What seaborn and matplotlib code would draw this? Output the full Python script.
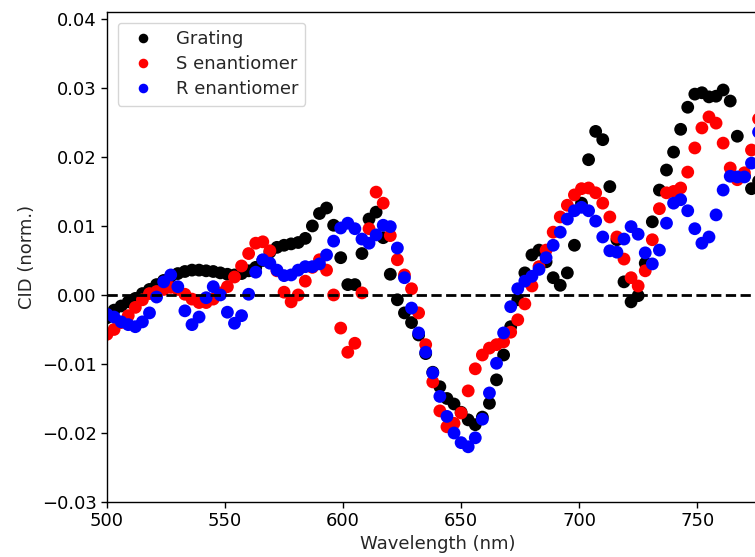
import matplotlib
matplotlib.use('Agg')
import matplotlib.pyplot as plt
import pandas as pd
import seaborn as sns

# values (3 nm steps)
wavelength = [500, 503, 506, 509, 512, 515, 518, 521, 524, 527,
              530, 533, 536, 539, 542, 545, 548, 551, 554, 557,
              560, 563, 566, 569, 572, 575, 578, 581, 584, 587,
              590, 593, 596, 599, 602, 605, 608, 611, 614, 617,
              620, 623, 626, 629, 632, 635, 638, 641, 644, 647,
              650, 653, 656, 659, 662, 665, 668, 671, 674, 677,
              680, 683, 686, 689, 692, 695, 698, 701, 704, 707,
              710, 713, 716, 719, 722, 725, 728, 731, 734, 737,
              740, 743, 746, 749, 752, 755, 758, 761, 764, 767,
              770, 773, 776]

grating = [-0.0033, -0.0022, -0.0016, -0.0010, -0.0005, 0.0002, 0.0008, 0.0015, 0.0021, 0.0027,
           0.0031, 0.0034, 0.0036, 0.0036, 0.0035, 0.0034, 0.0032, 0.0030, 0.0029, 0.0031,
           0.0035, 0.0040, 0.0050, 0.0062, 0.0069, 0.0072, 0.0074, 0.0076, 0.0082, 0.0100,
           0.0118, 0.0126, 0.0101, 0.0054, 0.0015, 0.0015, 0.0060, 0.0110, 0.0120, 0.0083,
           0.0030, -0.0007, -0.0026, -0.0040, -0.0058, -0.0085, -0.0112, -0.0133, -0.0150, -0.0158,
           -0.0170, -0.0181, -0.0188, -0.0177, -0.0157, -0.0123, -0.0087, -0.0046, -0.0007, 0.0032,
           0.0058, 0.0065, 0.0048, 0.0025, 0.0014, 0.0032, 0.0072, 0.0133, 0.0196, 0.0237,
           0.0225, 0.0157, 0.0080, 0.0019, -0.0010, -0.0001, 0.0046, 0.0106, 0.0152, 0.0181,
           0.0207, 0.0240, 0.0272, 0.0291, 0.0293, 0.0287, 0.0288, 0.0297, 0.0281, 0.0230,
           0.0172, 0.0154, 0.0165]

s_enantiomer = [-0.0057, -0.0050, -0.0040, -0.0030, -0.0018, -0.0007, 0.0002, 0.0005, 0.0008, 0.0011,
                0.0008, 0.0001, -0.0006, -0.0011, -0.0011, -0.0006, 0.0003, 0.0012, 0.0026, 0.0042,
                0.0060, 0.0075, 0.0077, 0.0064, 0.0035, 0.0004, -0.0010, 0.0000, 0.0020, 0.0040,
                0.0051, 0.0036, 0.0000, -0.0048, -0.0083, -0.0070, 0.0003, 0.0096, 0.0149, 0.0133,
                0.0086, 0.0051, 0.0029, 0.0009, -0.0026, -0.0072, -0.0126, -0.0168, -0.0191, -0.0186,
                -0.0171, -0.0139, -0.0107, -0.0087, -0.0077, -0.0072, -0.0068, -0.0054, -0.0036, -0.0013,
                0.0013, 0.0041, 0.0065, 0.0091, 0.0113, 0.0130, 0.0145, 0.0154, 0.0155, 0.0148,
                0.0133, 0.0113, 0.0084, 0.0052, 0.0025, 0.0013, 0.0035, 0.0080, 0.0125, 0.0148,
                0.0150, 0.0155, 0.0178, 0.0213, 0.0242, 0.0258, 0.0249, 0.0220, 0.0184, 0.0167,
                0.0177, 0.0210, 0.0255]

r_enantiomer = [-0.0028, -0.0032, -0.0039, -0.0043, -0.0046, -0.0039, -0.0026, -0.0003, 0.0019, 0.0029,
                0.0012, -0.0023, -0.0043, -0.0032, -0.0004, 0.0012, 0.0000, -0.0025, -0.0041, -0.0030,
                0.0001, 0.0033, 0.0051, 0.0046, 0.0036, 0.0028, 0.0029, 0.0036, 0.0041, 0.0041,
                0.0045, 0.0058, 0.0078, 0.0097, 0.0104, 0.0096, 0.0081, 0.0075, 0.0087, 0.0101,
                0.0099, 0.0068, 0.0025, -0.0019, -0.0055, -0.0083, -0.0113, -0.0147, -0.0176, -0.0200,
                -0.0214, -0.0220, -0.0207, -0.0180, -0.0142, -0.0099, -0.0055, -0.0017, 0.0009, 0.0020,
                0.0027, 0.0037, 0.0054, 0.0072, 0.0091, 0.0110, 0.0122, 0.0127, 0.0122, 0.0107,
                0.0084, 0.0064, 0.0062, 0.0081, 0.0099, 0.0088, 0.0061, 0.0045, 0.0065, 0.0104,
                0.0133, 0.0138, 0.0122, 0.0096, 0.0075, 0.0084, 0.0116, 0.0152, 0.0172, 0.0171,
                0.0171, 0.0191, 0.0236]

labels = ['Grating', 'S enantiomer', 'R enantiomer']
colors = ['black', 'red', 'blue']

df = pd.concat([
    pd.DataFrame({'Wavelength': wavelength, 'CID': vals, 'Sample': name})
    for name, vals in zip(labels, [grating, s_enantiomer, r_enantiomer])
], ignore_index=True)

sns.set_style('ticks')
plt.rcParams['font.family'] = ['DejaVu Sans']
plt.rcParams['font.size'] = 13

fig = plt.figure(figsize=(7.55, 5.57), dpi=100)
ax = fig.add_axes([107 / 755, 55 / 557, 661 / 755, 490 / 557])

sns.scatterplot(data=df, x='Wavelength', y='CID', hue='Sample',
                palette=dict(zip(labels, colors)), s=85, linewidth=0,
                ax=ax, zorder=2)
ax.axhline(0, color='black', ls='--', lw=2, zorder=3)

ax.set_xlim(500, 780)
ax.set_ylim(-0.03, 0.041)
ax.set_xticks([500, 550, 600, 650, 700, 750])
ax.set_yticks([-0.03, -0.02, -0.01, 0.0, 0.01, 0.02, 0.03, 0.04])
ax.set_yticklabels(['\u22120.03', '\u22120.02', '\u22120.01', '0.00',
                    '0.01', '0.02', '0.03', '0.04'])
ax.tick_params(direction='out', length=4, width=1, labelsize=13, colors='black')
for sp in ax.spines.values():
    sp.set_color('black')
    sp.set_linewidth(1)
ax.set_xlabel('Wavelength (nm)', fontsize=13, labelpad=3)
ax.set_ylabel('CID (norm.)', fontsize=13)

handles, _ = ax.get_legend_handles_labels()
ax.legend(handles, labels, loc='upper left', frameon=True, fancybox=True,
          edgecolor='0.8', fontsize=13, markerscale=0.75,
          labelspacing=0.4, borderaxespad=0.6)

fig.savefig('out.png', dpi=100)
